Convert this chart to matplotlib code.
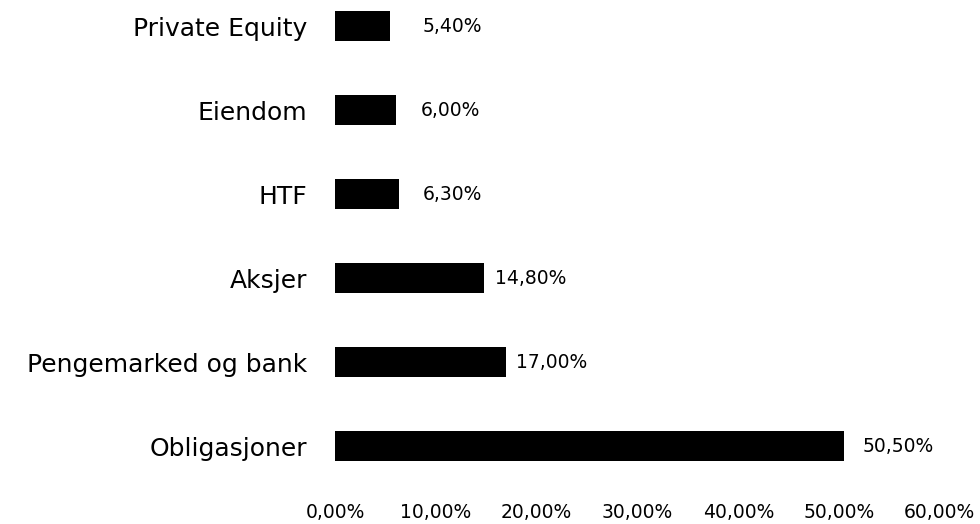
import matplotlib
matplotlib.use("Agg")
import matplotlib.pyplot as plt
from matplotlib.ticker import FuncFormatter

# data, bottom to top
categories = ["Obligasjoner", "Pengemarked og bank", "Aksjer", "HTF", "Eiendom", "Private Equity"]
shares = [50.5, 17.0, 14.8, 6.3, 6.0, 5.4]
xticks = [0, 10, 20, 30, 40, 50, 60]

# gap between bar end and value label (points), as in the original
label_pad = [13, 7, 8, 17, 18, 24]


def pct(v):
    return ("%.2f%%" % v).replace(".", ",")


fig = plt.figure(figsize=(9.8, 5.24), dpi=100)
ax = fig.add_axes([0.342, 0.0687, 0.617, 0.9313])

ypos = list(range(len(categories)))
ax.barh(ypos, shares, height=0.36, color="black")

for y, v, p in zip(ypos, shares, label_pad):
    ax.annotate(pct(v), (v, y), xytext=(p, 0), textcoords="offset points",
                va="center", ha="left", fontsize=13.5)

ax.set_xlim(0, 60)
ax.set_ylim(-0.5, 5.31)
ax.set_yticks(ypos)
ax.set_yticklabels(categories, fontsize=18)
ax.set_xticks(xticks)
ax.xaxis.set_major_formatter(FuncFormatter(lambda v, _: pct(v)))
ax.tick_params(axis="x", labelsize=13.5, length=0, pad=11)
ax.tick_params(axis="y", length=0, pad=20)
for s in ax.spines.values():
    s.set_visible(False)

fig.savefig("out.png", dpi=100)
